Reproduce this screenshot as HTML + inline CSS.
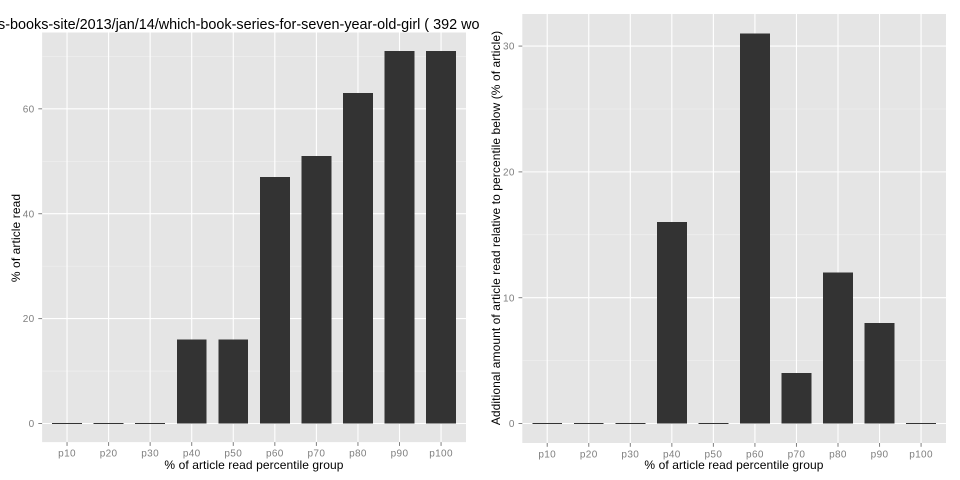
<!DOCTYPE html>
<html>
<head>
<meta charset="utf-8">
<title>Article read percentile charts</title>
<style>
html,body{margin:0;padding:0;background:#fff;width:960px;height:480px;overflow:hidden}
svg{display:block;font-family:"Liberation Sans",Arial,sans-serif}
</style>
</head>
<body>
<svg id="chart" width="960" height="480" viewBox="0 0 960 480" xmlns="http://www.w3.org/2000/svg">
  <defs><clipPath id="title-clip"><rect x="0" y="0" width="480" height="40"/></clipPath></defs>
  <rect width="960" height="480" fill="#fff"/>
  <g clip-path="url(#title-clip)">
    <text x="-2" y="29" font-size="14.4" fill="#000">s-books-site/2013/jan/14/which-book-series-for-seven-year-old-girl ( 392 words )</text>
  </g>
  <g id="left-panel"></g>
  <g id="right-panel"></g>
  <text x="254" y="469" font-size="12" letter-spacing="0.09" text-anchor="middle" fill="#000">% of article read percentile group</text>
  <text x="734" y="469" font-size="12" letter-spacing="0.09" text-anchor="middle" fill="#000">% of article read percentile group</text>
  <text transform="translate(20,238) rotate(-90)" font-size="12" letter-spacing="0.09" text-anchor="middle" fill="#000">% of article read</text>
  <text transform="translate(500,228) rotate(-90)" font-size="12" letter-spacing="0.08" text-anchor="middle" fill="#000">Additional amount of article read relative to percentile below (% of article)</text>
</svg>
<script>
const categories = ['p10','p20','p30','p40','p50','p60','p70','p80','p90','p100'];
const cumulativeValues = [0,0,0,16,16,47,51,63,71,71];
const additionalValues = [0,0,0,16,0,31,4,12,8,0];
const leftTicks = [0,20,40,60];
const leftMinorTicks = [10,30,50,70];
const rightTicks = [0,10,20,30];
const rightMinorTicks = [5,15,25];

const NS = 'http://www.w3.org/2000/svg';

function make(parent, tag, attrs) {
  const el = document.createElementNS(NS, tag);
  for (const k in attrs) el.setAttribute(k, attrs[k]);
  parent.appendChild(el);
  return el;
}

function drawPanel(parent, cfg) {
  const step = (cfg.right - cfg.left) / (categories.length - 1 + 1.2);
  const x = i => cfg.left + (0.6 + i) * step;
  const maxV = Math.max.apply(null, cfg.values);
  const unit = (cfg.zeroY - cfg.top) / (maxV * 1.05);
  const y = v => cfg.zeroY - v * unit;
  const bottom = cfg.zeroY + maxV * 0.05 * unit;
  const barW = step * 0.72;

  const bg = make(parent, 'rect', {x: cfg.left, y: cfg.top, width: cfg.right - cfg.left, height: bottom - cfg.top, fill: '#e5e5e5'});
  
  

  cfg.minor.forEach(v => {
    const g = make(parent, 'line', {x1: cfg.left, x2: cfg.right, y1: y(v), y2: y(v), stroke: '#f2f2f2', 'stroke-width': 0.55});
    
    
  });
  cfg.ticks.forEach(v => {
    const g = make(parent, 'line', {x1: cfg.left, x2: cfg.right, y1: y(v), y2: y(v), stroke: '#fff', 'stroke-width': 1.1});
    
    
    const t = make(parent, 'line', {x1: cfg.left - 3.8, x2: cfg.left, y1: y(v), y2: y(v), stroke: '#7f7f7f', 'stroke-width': 1});
    
    
    const l = make(parent, 'text', {x: cfg.left - 7.6, y: y(v) + 3.6, 'font-size': 10, 'letter-spacing': 0.3, 'text-anchor': 'end', fill: '#7f7f7f'});
    l.textContent = v;
    
    
  });
  categories.forEach((c, i) => {
    const g = make(parent, 'line', {x1: x(i), x2: x(i), y1: cfg.top, y2: bottom, stroke: '#fff', 'stroke-width': 1.1});
    
    
  });
  categories.forEach((c, i) => {
    const v = cfg.values[i];
    const b = make(parent, 'rect', {x: x(i) - barW / 2, y: y(v) - (v === 0 ? 0.5 : 0), width: barW, height: v === 0 ? 1 : y(0) - y(v), fill: '#333333', 'shape-rendering': 'crispEdges'});
    
    
    const t = make(parent, 'line', {x1: x(i), x2: x(i), y1: bottom, y2: bottom + 3.8, stroke: '#7f7f7f', 'stroke-width': 1});
    
    
    const l = make(parent, 'text', {x: x(i), y: bottom + 14.6, 'font-size': 10, 'letter-spacing': 0.35, 'text-anchor': 'middle', fill: '#7f7f7f'});
    l.textContent = c;
    
    
  });
}

drawPanel(document.getElementById('left-panel'), {left: 42.1, right: 466, top: 32.5, zeroY: 423.5, values: cumulativeValues, ticks: leftTicks, minor: leftMinorTicks});
drawPanel(document.getElementById('right-panel'), {left: 522.3, right: 946, top: 14, zeroY: 423.5, values: additionalValues, ticks: rightTicks, minor: rightMinorTicks});
</script>
</body>
</html>
